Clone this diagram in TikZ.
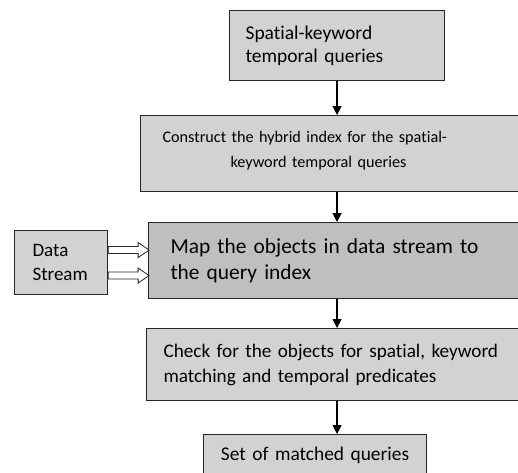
\documentclass[tikz,border=0pt]{standalone}
\usepackage{fontspec}
\setmainfont[Ligatures=NoCommon]{Carlito}
\usetikzlibrary{arrows.meta,calc}

\begin{document}
\begin{tikzpicture}[x=1pt, y=-1pt, >={Triangle[width=9pt,length=9pt]},
  box/.style={draw=black!85, line width=1.1pt, fill=gray!35, inner sep=0pt,
    anchor=north west, align=left, text=black},
  flow/.style={->, line width=1.3pt},
  hollow/.style={draw=black!85, line width=0.8pt, fill=white}]

  % --- 0. 表示範囲 ---
  \useasboundingbox (0,0) rectangle (518,472);
  \clip (0,0) rectangle (518,472);

  % --- 1. 各処理のボックス ---
  \node[box, minimum width=215, minimum height=70, text width=183,
    font=\fontsize{19.5}{23}\selectfont] (qry) at (229,10)
    {Spatial-keyword\\temporal queries};

  \node[box, minimum width=390, minimum height=76, text width=346, text depth=34pt,
    font=\fontsize{16.2}{25}\selectfont] (idx) at (140,115)
    {Construct the hybrid index for the spatial-\\\hspace*{68pt}keyword temporal queries};

  \node[box, fill=gray!50, minimum width=390, minimum height=76, text width=346,
    font=\fontsize{21.4}{26}\selectfont] (map) at (148,222)
    {Map the objects in data stream to\\the query index};

  \node[box, minimum width=390, minimum height=72, text width=356,
    font=\fontsize{19.2}{25}\selectfont] (chk) at (146,328)
    {Check for the objects for spatial, keyword\\matching and temporal predicates};

  \node[box, minimum width=223, minimum height=42, text width=200, align=center,
    font=\fontsize{19.4}{23}\selectfont] (res) at (203,434)
    {Set of matched queries};

  % --- 2. データストリーム ---
  \node[box, minimum width=93, minimum height=64, text width=57,
    font=\fontsize{19}{24}\selectfont] (ds) at (14,230)
    {Data\\Stream};

  % --- 3. 処理の流れ (矢印) ---
  \draw[flow] (qry.south) -- (qry.south |- idx.north);
  \draw[flow] (qry.south |- idx.south) -- (qry.south |- map.north);
  \draw[flow] (qry.south |- map.south) -- (qry.south |- chk.north);
  \draw[flow] (qry.south |- chk.south) -- (qry.south |- res.north);

  % --- 4. 白抜き矢印 (Data Stream -> Map) ---
  \foreach \dy in {-12.5,13} {
    \draw[hollow] ($(ds.east)+(0,\dy-3.5)$) -- ++(30,0) -- ++(0,-4)
      -- ($(ds.east)+(41,\dy)$) -- ++(-11,7.5) -- ++(0,-4) -- ++(-30,0) -- cycle;
  }

\end{tikzpicture}
\end{document}
